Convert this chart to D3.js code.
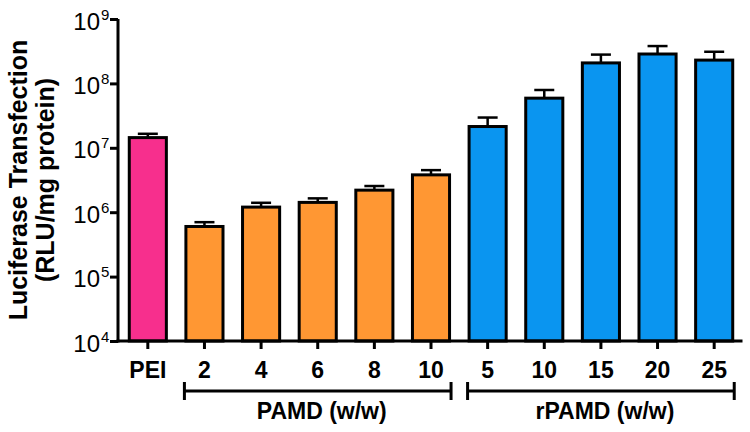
<!DOCTYPE html>
<html>
<head>
<meta charset="utf-8">
<script src="https://cdn.jsdelivr.net/npm/d3@7"></script>
<style>
	body { margin: 0; background: #fff; }
	svg { display: block; }
	text { font-family: "Liberation Sans", Arial, Helvetica, sans-serif; fill: #000; }
</style>
</head>
<body>
<div id="chart"></div>
<script>
// category labels on the x axis
var categories = ['PEI', '2', '4', '6', '8', '10', '5', '10', '15', '20', '25'];
// which group each bar belongs to
var groups = ['PEI', 'PAMD', 'PAMD', 'PAMD', 'PAMD', 'PAMD', 'rPAMD', 'rPAMD', 'rPAMD', 'rPAMD', 'rPAMD'];
// mean luciferase expression (RLU/mg protein)
var means = [1.44e7, 6.0e5, 1.2e6, 1.42e6, 2.2e6, 3.8e6, 2.14e7, 5.9e7, 2.08e8, 2.86e8, 2.3e8];
// top of the error bar (mean + SD)
var errTop = [1.65e7, 7.0e5, 1.4e6, 1.64e6, 2.55e6, 4.5e6, 2.95e7, 7.9e7, 2.8e8, 3.8e8, 3.1e8];
// y axis ticks (exponents of 10)
var yExponents = [4, 5, 6, 7, 8, 9];
// group brackets under the axis
var bracketNames = ['PAMD', 'rPAMD'];
var bracketLabels = ['PAMD (w/w)', 'rPAMD (w/w)'];

var width = 750;
var height = 432;
var colors = {PEI: '#f72f8d', PAMD: '#ff9733', rPAMD: '#0a95f0'};

var svg = d3.select('#chart')
	.append('svg')
	.attr('width', width)
	.attr('height', height);

var x = d3.scaleBand()
	.domain(d3.range(categories.length))
	.range([119.5, 742.5])
	.paddingInner(0.345)
	.paddingOuter(0.1725);

var y = d3.scaleLog()
	.domain([1e4, 1e9])
	.range([341, 19]);

var axisX = 118;

// bars
svg.selectAll('.bar')
	.data(means)
	.enter()
	.append('rect')
	.attr('class', 'bar')
	.attr('x', function(d, i){ return x(i); })
	.attr('width', x.bandwidth())
	.attr('y', function(d){ return y(d); })
	.attr('height', function(d){ return y(1e4) - y(d); })
	.attr('fill', function(d, i){ return colors[groups[i]]; })
	.attr('stroke', '#000')
	.attr('stroke-width', 3);

// error bars (upper only)
var err = svg.selectAll('.err')
	.data(errTop)
	.enter()
	.append('g')
	.attr('class', 'err')
	.attr('transform', function(d, i){
		return 'translate(' + (x(i) + x.bandwidth()/2) + ',0)';
	});

	err.append('line')
		.attr('x1', 0).attr('x2', 0)
		.attr('y1', function(d, i){ return y(means[i]); })
		.attr('y2', function(d){ return y(d); })
		.attr('stroke', '#000')
		.attr('stroke-width', 2.5);

	err.append('line')
		.attr('x1', -10).attr('x2', 10)
		.attr('y1', function(d){ return y(d); })
		.attr('y2', function(d){ return y(d); })
		.attr('stroke', '#000')
		.attr('stroke-width', 2.5);

// y axis
var yAxis = d3.axisLeft(y)
	.tickValues(yExponents.map(function(e){ return Math.pow(10, e); }))
	.tickSize(8)
	.tickFormat('');

var gy = svg.append('g')
	.attr('transform', 'translate(' + axisX + ',0)')
	.call(yAxis);

	gy.select('.domain').attr('stroke-width', 3).attr('d', 'M0,' + y(1e9) + 'V' + (y(1e4) + 1.5));
	gy.selectAll('.tick line').attr('stroke-width', 3);

	gy.selectAll('.tick')
		.append('text')
		.attr('x', -18)
		.attr('y', 10)
		.attr('text-anchor', 'end')
		.style('font-size', '24px')
		.text('10')
		.each(function(d){
			var e = Math.round(Math.log10(d));
			d3.select(this.parentNode)
				.append('text')
				.attr('x', -17)
				.attr('y', 0)
				.attr('text-anchor', 'start')
				.style('font-size', '15px')
				.text(e);
		});

// x axis
var xAxis = d3.axisBottom(x)
	.tickSize(8)
	.tickFormat(function(i){ return categories[i]; });

var gx = svg.append('g')
	.attr('transform', 'translate(0,' + y(1e4) + ')')
	.call(xAxis);

	gx.select('.domain').attr('stroke-width', 3).attr('d', 'M' + (axisX - 1.5) + ',0H742.5');
	gx.selectAll('.tick line').attr('stroke-width', 3);
	gx.selectAll('.tick text')
		.attr('y', 37)
		.attr('dy', null)
		.style('font-size', '23px')
		.style('font-weight', 'bold')
		.attr('fill', '#000');

// group brackets
var brackets = svg.selectAll('.bracket')
	.data(bracketNames)
	.enter()
	.append('g')
	.attr('class', 'bracket');

	brackets.each(function(name, k){
		var idx = d3.range(groups.length).filter(function(i){ return groups[i] === name; });
		var x0 = x(idx[0]) - 1.5;
		var x1 = x(idx[idx.length - 1]) + x.bandwidth() + 1.5;
		var by = 391;
		var g = d3.select(this);
		g.append('line')
			.attr('x1', x0).attr('x2', x1)
			.attr('y1', by).attr('y2', by)
			.attr('stroke', '#000').attr('stroke-width', 3);
		g.selectAll('.end')
			.data([x0, x1])
			.enter()
			.append('line')
			.attr('x1', function(d){ return d; })
			.attr('x2', function(d){ return d; })
			.attr('y1', by - 9).attr('y2', by + 9)
			.attr('stroke', '#000').attr('stroke-width', 3);
		g.append('text')
			.attr('x', (x0 + x1)/2 + 4)
			.attr('y', 419)
			.attr('text-anchor', 'middle')
			.style('font-size', '23px')
			.style('font-weight', 'bold')
			.text(bracketLabels[k]);
	});

// y axis title
var title = svg.append('text')
	.attr('transform', 'translate(0,180) rotate(-90)')
	.attr('text-anchor', 'middle')
	.style('font-size', '25px')
	.style('font-weight', 'bold');

	title.append('tspan')
		.attr('x', 0)
		.attr('y', 27)
		.text('Luciferase Transfection');

	title.append('tspan')
		.attr('x', 0)
		.attr('y', 54)
		.text('(RLU/mg protein)');
</script>
</body>
</html>
